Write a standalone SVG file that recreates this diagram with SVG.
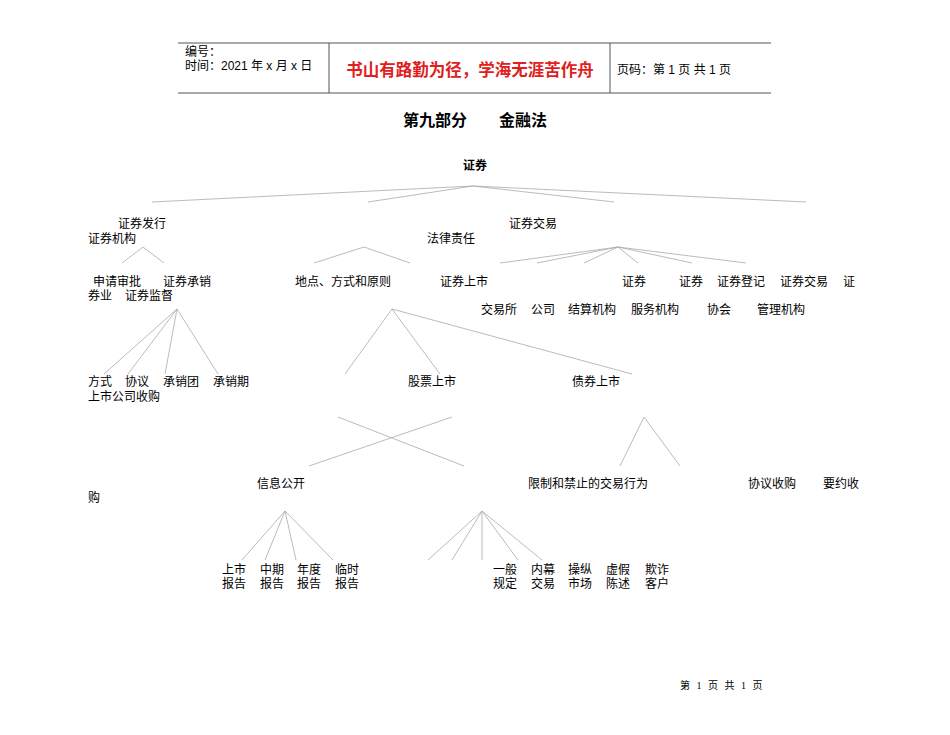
<svg xmlns="http://www.w3.org/2000/svg" width="950" height="735" viewBox="0 0 950 735">
<style>
text{font-family:"Liberation Serif","Noto Sans CJK SC",serif;font-size:12px;fill:#000}
.h{font-family:"Liberation Sans","Noto Sans CJK SC",sans-serif}
.b{font-weight:bold;font-family:"Noto Sans CJK SC",sans-serif}
.hl{stroke:#555;stroke-width:1}
#connectors line{stroke:#aaa;stroke-width:0.8}
</style>
<rect width="950" height="735" fill="#fff"/>
<g id="header">
<line class="hl" x1="178" y1="43" x2="771" y2="43"/>
<line class="hl" x1="178" y1="93" x2="771" y2="93"/>
<line class="hl" x1="329" y1="43" x2="329" y2="93"/>
<line class="hl" x1="610" y1="43" x2="610" y2="93"/>
<text class="h" x="185" y="56">编号：</text>
<text class="h" x="185" y="70">时间：2021 年 x 月 x 日</text>
<text class="h" x="470" y="76" text-anchor="middle" style="font-size:16.5px;font-weight:bold;fill:#e02020">书山有路勤为径，学海无涯苦作舟</text>
<text class="h" x="617" y="74">页码：第 1 页  共 1 页</text>
</g>
<g id="title"><text class="b" x="475" y="126" text-anchor="middle" style="font-size:16px">第九部分　　金融法</text></g>
<g id="root"><text class="b" x="475" y="170" text-anchor="middle">证券</text></g>
<g id="connectors">
<line x1="473" y1="186" x2="152" y2="202"/><line x1="473" y1="186" x2="368" y2="202"/>
<line x1="473" y1="186" x2="614" y2="202"/><line x1="473" y1="186" x2="806" y2="202"/>
<line x1="143" y1="247" x2="122" y2="263"/><line x1="143" y1="247" x2="164" y2="263"/>
<line x1="364" y1="247" x2="314" y2="263"/><line x1="364" y1="247" x2="410" y2="263"/>
<line x1="618" y1="247" x2="500" y2="263"/><line x1="618" y1="247" x2="537" y2="263"/>
<line x1="618" y1="247" x2="584" y2="263"/><line x1="618" y1="247" x2="638" y2="263"/>
<line x1="618" y1="247" x2="692" y2="263"/><line x1="618" y1="247" x2="746" y2="263"/>
<line x1="177" y1="309" x2="104" y2="374"/><line x1="177" y1="309" x2="128" y2="374"/>
<line x1="177" y1="309" x2="165" y2="374"/><line x1="177" y1="309" x2="218" y2="374"/>
<line x1="392" y1="309" x2="345" y2="374"/><line x1="392" y1="309" x2="440" y2="374"/>
<line x1="392" y1="309" x2="632" y2="374"/>
<line x1="338" y1="417" x2="464" y2="466"/><line x1="452" y1="417" x2="309" y2="466"/>
<line x1="644" y1="417" x2="620" y2="466"/><line x1="644" y1="417" x2="680" y2="466"/>
<line x1="285" y1="511" x2="242" y2="560"/><line x1="285" y1="511" x2="265" y2="560"/>
<line x1="285" y1="511" x2="296" y2="560"/><line x1="285" y1="511" x2="333" y2="560"/>
<line x1="482" y1="511" x2="428" y2="560"/><line x1="482" y1="511" x2="452" y2="560"/>
<line x1="482" y1="511" x2="482" y2="560"/><line x1="482" y1="511" x2="518" y2="560"/>
<line x1="482" y1="511" x2="542" y2="560"/>
</g>
<g id="n-issue"><text x="118" y="228">证券发行</text><text x="88" y="243">证券机构</text></g>
<g id="n-trade"><text x="509" y="228">证券交易</text><text x="427" y="243">法律责任</text></g>
<g id="n-row2">
<text x="93" y="286">申请审批</text><text x="163" y="286">证券承销</text>
<text x="88" y="300">券业</text><text x="125" y="300">证券监督</text>
<text x="295" y="286">地点、方式和原则</text><text x="440" y="286">证券上市</text>
<text x="622" y="286">证券</text><text x="679" y="286">证券</text><text x="717" y="286">证券登记</text>
<text x="780" y="286">证券交易</text><text x="843" y="286">证</text>
<text x="481" y="314">交易所</text><text x="531" y="314">公司</text><text x="568" y="314">结算机构</text>
<text x="631" y="314">服务机构</text><text x="707" y="314">协会</text><text x="757" y="314">管理机构</text>
</g>
<g id="n-row3">
<text x="88" y="386">方式</text><text x="125" y="386">协议</text><text x="163" y="386">承销团</text><text x="213" y="386">承销期</text>
<text x="88" y="401">上市公司收购</text>
<text x="408" y="386">股票上市</text><text x="572" y="386">债券上市</text>
</g>
<g id="n-row4">
<text x="257" y="488">信息公开</text><text x="528" y="488">限制和禁止的交易行为</text>
<text x="748" y="488">协议收购</text><text x="823" y="488">要约收</text><text x="88" y="502">购</text>
</g>
<g id="n-row5">
<text x="222" y="574">上市</text><text x="222" y="588">报告</text>
<text x="260" y="574">中期</text><text x="260" y="588">报告</text>
<text x="297" y="574">年度</text><text x="297" y="588">报告</text>
<text x="335" y="574">临时</text><text x="335" y="588">报告</text>
<text x="493" y="574">一般</text><text x="493" y="588">规定</text>
<text x="531" y="574">内幕</text><text x="531" y="588">交易</text>
<text x="568" y="574">操纵</text><text x="568" y="588">市场</text>
<text x="606" y="574">虚假</text><text x="606" y="588">陈述</text>
<text x="645" y="574">欺诈</text><text x="645" y="588">客户</text>
</g>
<g id="footer"><text x="680" y="689" style="font-size:10px;word-spacing:4px">第 1 页 共 1 页</text></g>
</svg>
